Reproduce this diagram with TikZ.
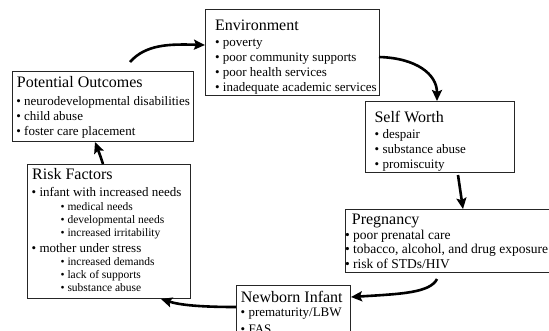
\documentclass[tikz,border=0pt]{standalone}
\usepackage{fontspec}
\setmainfont{Liberation Serif}
\usetikzlibrary{arrows.meta}
\tikzset{
  box/.style={draw=black!85, line width=0.8pt, anchor=north west, inner sep=0pt, outer sep=0pt},
  ttl/.style={anchor=base west, inner sep=0pt, font=\fontsize{16}{18}\selectfont},
  itm/.style={anchor=base west, inner sep=0pt, font=\fontsize{13}{15}\selectfont},
  sub/.style={anchor=base west, inner sep=0pt, font=\fontsize{11.5}{13}\selectfont},
  flow/.style={line width=2.6pt, -{Stealth[length=11pt,width=10pt,inset=2pt]}},
}
\begin{document}
\begin{tikzpicture}[x=1pt,y=-1pt]
\useasboundingbox (0,0) rectangle (549,330);
% boxes
\node[box, minimum width=173.3, minimum height=86.7] (env) at (205.7,9) {};
\node[box, minimum width=148.6, minimum height=71] (self) at (365.7,101.7) {};
\node[box, minimum width=205, minimum height=63] (preg) at (345.7,209) {};
\node[box, minimum width=114, minimum height=70] (newb) at (236,285) {};
\node[box, minimum width=163.7, minimum height=134.3] (risk) at (27,164) {};
\node[box, minimum width=180.6, minimum height=70] (pot) at (12.7,71) {};
% Environment
\node[ttl] (env-t) at (215,30.7) {Environment};
\foreach \t [count=\i] in {poverty, poor community supports, poor health services, inadequate academic services}
  \node[itm] (env-\i) at (214.9,{46.7+15*(\i-1)}) {• \t};
% Self Worth
\node[ttl] (self-t) at (374.3,122.7) {Self Worth};
\foreach \t [count=\i] in {despair, substance abuse, promiscuity}
  \node[itm] (self-\i) at (374.5,{138+15*(\i-1)}) {• \t};
% Pregnancy
\node[ttl] (preg-t) at (351.7,224.3) {Pregnancy};
\foreach \t [count=\i] in {poor prenatal care, {tobacco, alcohol, and drug exposure}, risk of STDs/HIV}
  \node[itm, font=\fontsize{13.5}{15}\selectfont] (preg-\i) at (344.8,{239+14.7*(\i-1)}) {• \t};
% Newborn Infant
\node[ttl] (newb-t) at (240.7,302.3) {Newborn Infant};
\node[itm] (newb-1) at (240.5,316.7) {• prematurity/LBW};
\node[itm] (newb-2) at (240.5,333.5) {• FAS};
% Risk Factors
\node[ttl] (risk-t) at (32,179.3) {Risk Factors};
\node[itm] (risk-a) at (31.5,196) {• infant with increased needs};
\foreach \t [count=\i] in {medical needs, developmental needs, increased irritability}
  \node[sub] (risk-a\i) at (60.4,{210+13*(\i-1)}) {• \t};
\node[itm] (risk-b) at (31.5,252) {• mother under stress};
\foreach \t [count=\i] in {increased demands, lack of supports, substance abuse}
  \node[sub] (risk-b\i) at (60.4,{265+13.3*(\i-1)}) {• \t};
% Potential Outcomes
\node[ttl] (pot-t) at (16.7,87.3) {Potential Outcomes};
\foreach \t [count=\i] in {neurodevelopmental disabilities, child abuse, foster care placement}
  \node[itm] (pot-\i) at (16.2,{105+15*(\i-1)}) {• \t};
% connector ends
\coordinate (a1s) at (130,62);   \coordinate (a1e) at (205,45);
\coordinate (a2s) at (379,57);   \coordinate (a2e) at (437,101);
\coordinate (a3s) at (458,175);  \coordinate (a3e) at (463,209);
\coordinate (a4s) at (437,279);  \coordinate (a4e) at (351,297);
\coordinate (a5s) at (236,307);  \coordinate (a5e) at (161,299);
\coordinate (a6s) at (103,164);  \coordinate (a6e) at (95,142);
% connectors
\draw[flow] (a1s) .. controls (146,44) and (170,44) .. (a1e);
\draw[flow] (a2s) .. controls (416,58) and (437,74) .. (a2e);
\draw[flow] (a3s) -- (a3e);
\draw[flow] (a4s) .. controls (430,293) and (400,294) .. (a4e);
\draw[flow] (a5s) .. controls (200,307) and (180,305) .. (a5e);
\draw[flow] (a6s) .. controls (100,155) .. (a6e);
\end{tikzpicture}
\end{document}
